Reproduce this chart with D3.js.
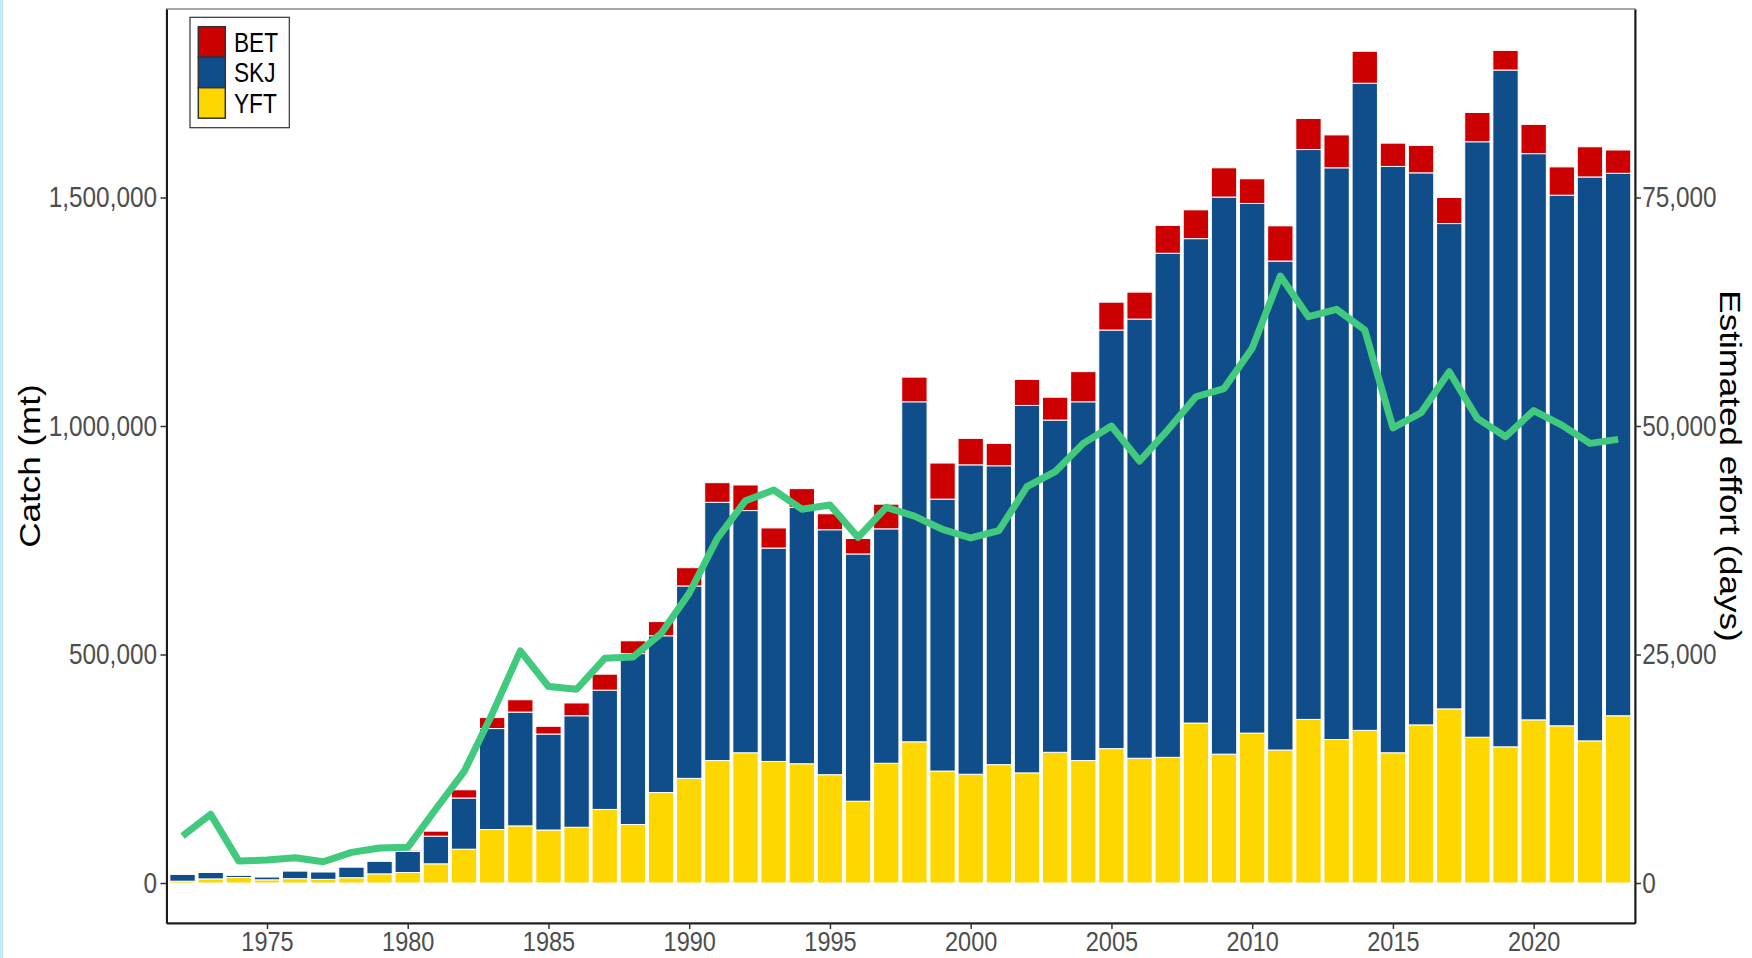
<!DOCTYPE html>
<html>
<head>
<meta charset="utf-8">
<script src="https://cdn.jsdelivr.net/npm/d3@7"></script>
<style>
  body { margin: 0; background: #fff; }
  svg { display: block; }
</style>
</head>
<body>
<div id="chart"></div>
<script>
// Chart data (catch in tonnes, effort in days)
const years = [1972, 1973, 1974, 1975, 1976, 1977, 1978, 1979, 1980, 1981,
  1982, 1983, 1984, 1985, 1986, 1987, 1988, 1989, 1990, 1991,
  1992, 1993, 1994, 1995, 1996, 1997, 1998, 1999, 2000, 2001,
  2002, 2003, 2004, 2005, 2006, 2007, 2008, 2009, 2010, 2011,
  2012, 2013, 2014, 2015, 2016, 2017, 2018, 2019, 2020, 2021,
  2022, 2023];

const yft = [4000, 9000, 12000, 7000, 9500, 8000, 11600, 20000, 23000, 42000,
  74000, 117000, 125000, 116000, 122000, 161000, 128000, 198000, 229000, 268000,
  285000, 266000, 261000, 237000, 179000, 262000, 309000, 245000, 238000, 259000,
  241000, 286000, 268000, 294000, 273000, 275000, 350000, 282000, 328000, 291000,
  358000, 314000, 334000, 285000, 346000, 381000, 319000, 298000, 357000, 344000,
  311000, 366000];

const skj = [15000, 14000, 5000, 6500, 17000, 16500, 23500, 27600, 46000, 60500,
  112000, 221000, 249000, 210000, 244000, 261000, 374000, 343000, 421000, 565000,
  530000, 467000, 561000, 536000, 541000, 513000, 744000, 595000, 677000, 654000,
  804000, 727000, 785000, 916000, 961000, 1103000, 1060000, 1219000, 1159000, 1070000,
  1247000, 1251000, 1416000, 1283000, 1208000, 1062000, 1303000, 1481000, 1239000, 1161000,
  1234000, 1187000];

const bet = [500, 1000, 500, 500, 1000, 1000, 2000, 2000, 2700, 11000,
  18000, 24000, 27000, 17000, 28000, 35000, 28000, 31000, 40000, 43000,
  56000, 44000, 41000, 35000, 34000, 54000, 54000, 79000, 58000, 49000,
  57000, 50000, 66000, 61000, 59000, 61000, 63000, 64000, 54000, 77000,
  68000, 72000, 70000, 51000, 60000, 57000, 64000, 43000, 64000, 62000,
  66000, 51000];

const effort = [5140, 7515, 2400, 2515, 2770, 2330, 3355, 3830, 3900, 8100,
  12180, 18500, 25400, 21500, 21200, 24580, 24720, 27300, 31700, 37700,
  41830, 43000, 40900, 41360, 37820, 41100, 40150, 38700, 37750, 38550,
  43360, 45000, 48100, 50000, 46170, 49560, 53200, 54100, 58500, 66400,
  61960, 62760, 60500, 49800, 51450, 55940, 50840, 48830, 51680, 50100,
  48100, 48540];

const species = ["YFT", "SKJ", "BET"];          // stacking order, bottom to top
const legendOrder = ["BET", "SKJ", "YFT"];
const colors = { BET: "#CC0000", SKJ: "#104E8B", YFT: "#FFD700" };

const catchTicks = [0, 500000, 1000000, 1500000];
const effortTicks = [0, 25000, 50000, 75000];
const yearTicks = [1975, 1980, 1985, 1990, 1995, 2000, 2005, 2010, 2015, 2020];

// Layout
const width = 1752, height = 958;
const panel = { left: 166.5, right: 1635, top: 9, bottom: 923 };
const squeeze = 0.84;          // the picture is a little narrower than tall
const font = "'Liberation Sans', Arial, Helvetica, sans-serif";

const svg = d3.select("#chart").append("svg")
  .attr("width", width)
  .attr("height", height);

// light edge strip at the left of the picture
svg.append("rect").attr("x", 0).attr("y", 0).attr("width", 3).attr("height", height)
  .attr("fill", "#c3eaf9");

const x = d3.scaleLinear().domain([1971.43, 2023.6]).range([panel.left, panel.right]);
const y = d3.scaleLinear().domain([-87500, 1912500]).range([panel.bottom, panel.top]);
const yRight = d3.scaleLinear().domain([-4375, 95625]).range([panel.bottom, panel.top]);

const rows = years.map((yr, i) => ({ year: yr, YFT: yft[i], SKJ: skj[i], BET: bet[i] }));
const stacked = d3.stack().keys(species)(rows);

// Panel border (grey) behind the axes
svg.append("rect")
  .attr("x", panel.left).attr("y", panel.top)
  .attr("width", panel.right - panel.left).attr("height", panel.bottom - panel.top)
  .attr("fill", "none").attr("stroke", "#8c8c8c").attr("stroke-width", 1.5);

// Stacked bars
const barW = x(1972.9) - x(1972);
svg.append("g")
  .selectAll("g")
  .data(stacked)
  .join("g")
  .attr("fill", d => colors[d.key])
  .selectAll("rect")
  .data(d => d)
  .join("rect")
  .attr("x", d => x(d.data.year) - barW / 2)
  .attr("width", barW)
  .attr("y", d => y(d[1]))
  .attr("height", d => Math.max(0, y(d[0]) - y(d[1])))
  .attr("stroke", "#fff")
  .attr("stroke-width", 1);

// Effort line
const line = d3.line()
  .x((d, i) => x(years[i]))
  .y(d => yRight(d));

svg.append("path")
  .datum(effort)
  .attr("d", line)
  .attr("fill", "none")
  .attr("stroke", "#41C97D")
  .attr("stroke-width", 7)
  .attr("stroke-linejoin", "round");

// Axes
function styleAxis(g) {
  g.select(".domain").attr("stroke", "#1a1a1a").attr("stroke-width", 2);
  g.selectAll(".tick line").attr("stroke", "#333").attr("stroke-width", 1.5);
  g.selectAll(".tick text")
    .attr("fill", "#4D4D4D")
    .attr("font-size", 29)
    .attr("font-family", font);
}

const leftAxis = svg.append("g")
  .attr("transform", `translate(${panel.left},0)`)
  .call(d3.axisLeft(y).tickValues(catchTicks).tickFormat(d3.format(",")).tickSize(6).tickSizeOuter(0))
  .call(styleAxis);
leftAxis.selectAll(".tick text")
  .attr("x", -11.3)
  .attr("transform", `scale(${squeeze},1)`);

const rightAxis = svg.append("g")
  .attr("transform", `translate(${panel.right},0)`)
  .call(d3.axisRight(yRight).tickValues(effortTicks).tickFormat(d3.format(",")).tickSize(6).tickSizeOuter(0))
  .call(styleAxis);
rightAxis.selectAll(".tick text")
  .attr("x", 8.5)
  .attr("transform", `scale(${squeeze},1)`);

const bottomAxis = svg.append("g")
  .attr("transform", `translate(0,${panel.bottom})`)
  .call(d3.axisBottom(x).tickValues(yearTicks).tickFormat(d3.format("d")).tickSize(6).tickSizeOuter(0))
  .call(styleAxis);
bottomAxis.selectAll(".tick text")
  .attr("font-size", 28)
  .attr("y", 8)
  .attr("transform", `scale(${squeeze},1)`);

// Axis titles
svg.append("text")
  .attr("transform", `translate(40,466) scale(${squeeze},1) rotate(-90)`)
  .attr("text-anchor", "middle")
  .attr("font-family", font)
  .attr("font-size", 35)
  .attr("fill", "#000")
  .text("Catch (mt)");

svg.append("text")
  .attr("transform", `translate(1720,466) scale(${squeeze},1) rotate(90)`)
  .attr("text-anchor", "middle")
  .attr("font-family", font)
  .attr("font-size", 35)
  .attr("fill", "#000")
  .text("Estimated effort (days)");

// Legend
const legend = svg.append("g");
legend.append("rect")
  .attr("x", 190).attr("y", 17.3)
  .attr("width", 99.3).attr("height", 110.4)
  .attr("fill", "#fff").attr("stroke", "#333").attr("stroke-width", 1.2);

const keyH = 30.5, keyW = 27;
legend.selectAll("rect.key")
  .data(legendOrder)
  .join("rect")
  .attr("class", "key")
  .attr("x", 198.3)
  .attr("y", (d, i) => 26.7 + i * keyH)
  .attr("width", keyW)
  .attr("height", keyH)
  .attr("fill", d => colors[d])
  .attr("stroke", "#333")
  .attr("stroke-width", 1.5);

legend.selectAll("text")
  .data(legendOrder)
  .join("text")
  .attr("transform", (d, i) => `translate(234,${26.7 + i * keyH + keyH / 2 + 9.6}) scale(${squeeze},1)`)
  .attr("font-family", font)
  .attr("font-size", 27)
  .attr("fill", "#000")
  .text(d => d);
</script>
</body>
</html>
